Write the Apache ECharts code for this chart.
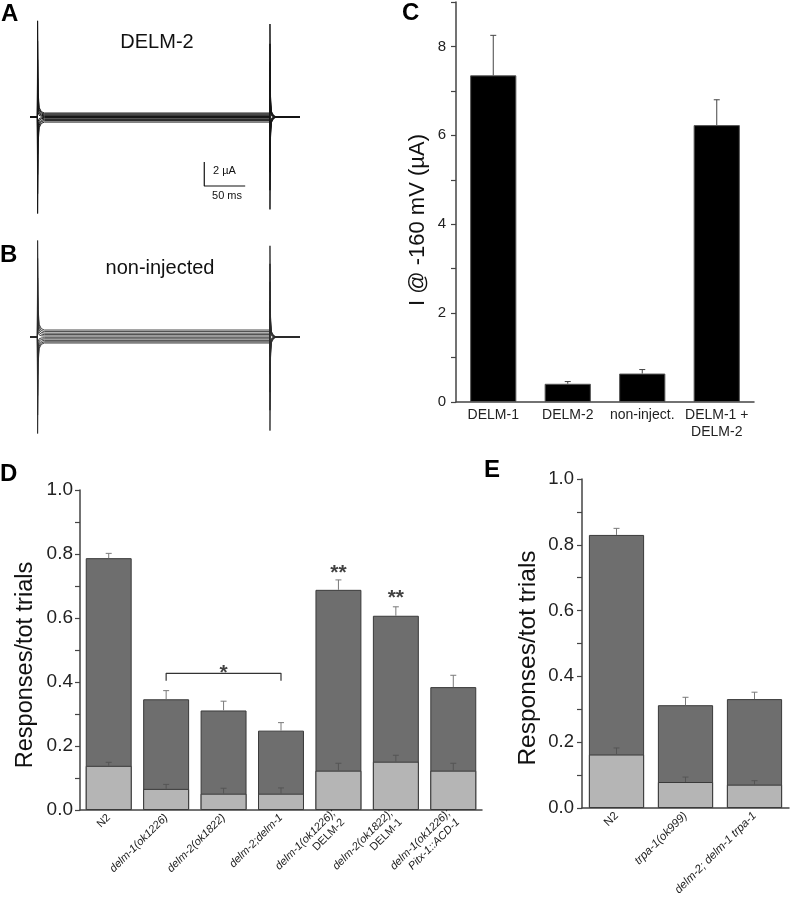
<!DOCTYPE html>
<html>
<head>
<meta charset="utf-8">
<script src="https://cdn.jsdelivr.net/npm/echarts@6/dist/echarts.min.js"></script>
<style>
html,body{margin:0;padding:0;background:#fff;}
#chart{width:791px;height:899px;}
</style>
</head>
<body>
<div id="chart"></div>
<script>
// ---------- Panel A/B: current traces ----------
const tOn = 9, tOff = 293, tEnd = 330;               // ms
const transientT = [0, 0.3, 1, 2.2, 4.8, 8.5];        // ms after edge
const transientF = [0, 1, 0.22, 0.06, 0.015, 0];      // fraction of peak
const peakA  = [7.7, 6.1, 4.6, 3.1, 1.6, -1.5, -3.0, -4.6, -6.1, -7.75];
const levelA = [0.33, 0.25, 0.17, 0.1, 0.04, -0.04, -0.1, -0.2, -0.3, -0.42];
const peakB  = [7.8, 6.1, 4.6, 3.1, 1.6, -1.5, -3.0, -4.6, -6.1, -7.6];
const levelB = [0.58, 0.45, 0.32, 0.2, 0.08, -0.06, -0.16, -0.28, -0.4, -0.5];
const scaleBarTime = [213, 213, 263];
const scaleBarCurrent = [-3.75, -5.75, -5.75];

// ---------- Panel C ----------
const catsC = ['DELM-1', 'DELM-2', 'non-inject.', 'DELM-1 +\nDELM-2'];
const valC  = [7.35, 0.41, 0.64, 6.23];
const errC  = [0.9, 0.05, 0.09, 0.57];

// ---------- Panel D ----------
const catsD = ['N2', 'delm-1(ok1226)', 'delm-2(ok1822)', 'delm-2;delm-1',
  'delm-1(ok1226);\nDELM-2', 'delm-2(ok1822);\nDELM-1', 'delm-1(ok1226);\nPitx-1::ACD-1'];
const totalD    = [0.787, 0.346, 0.311, 0.248, 0.688, 0.607, 0.384];
const totalErrD = [0.015, 0.027, 0.029, 0.025, 0.031, 0.028, 0.037];
const lightD    = [0.138, 0.066, 0.051, 0.051, 0.123, 0.151, 0.123];
const lightErrD = [0.011, 0.014, 0.017, 0.018, 0.023, 0.02, 0.023];
const bracketD  = [[1, 0.404], [1, 0.427], [3, 0.427], [3, 0.404]];
const starsD    = [[2, 0.426, '*'], [4, 0.741, '**'], [5, 0.661, '**']];

// ---------- Panel E ----------
const catsE = ['N2', 'trpa-1(ok999)', 'delm-2; delm-1 trpa-1'];
const totalE    = [0.830, 0.3125, 0.331];
const totalErrE = [0.02, 0.024, 0.021];
const lightE    = [0.1625, 0.079, 0.071];
const lightErrE = [0.02, 0.015, 0.012];

const FONT = '"Liberation Sans", Arial, sans-serif';
const DARK = '#6e6e6e', LIGHT = '#b5b5b5', EDGE = '#3a3a3a', AXIS = '#444';

function tracePoints(peak, level) {
  const pts = [[0, 0], [tOn, 0]];
  for (let i = 1; i < transientT.length; i++) {
    pts.push([tOn + transientT[i], level + peak * transientF[i]]);
  }
  pts.push([tOff, level]);
  for (let i = 1; i < transientT.length; i++) {
    pts.push([tOff + transientT[i], -peak * transientF[i]]);
  }
  pts.push([tEnd, 0]);
  return pts;
}

function traceSeries(peaks, levels, axisIdx, color, width) {
  return peaks.map((p, i) => ({
    type: 'line', xAxisIndex: axisIdx, yAxisIndex: axisIdx,
    data: tracePoints(p, levels[i]), symbol: 'none', silent: true,
    lineStyle: { color: color, width: width, join: 'bevel' }
  }));
}

function errSeries(axisIdx, vals, errs, color, z) {
  return {
    type: 'custom', xAxisIndex: axisIdx, yAxisIndex: axisIdx, z: z || 5, silent: true,
    data: vals.map((v, i) => [i, v, errs[i]]),
    encode: { x: 0, y: 1 },
    renderItem: function (params, api) {
      const x = api.value(0), v = api.value(1), e = api.value(2);
      const p0 = api.coord([x, v]);
      const p1 = api.coord([x, v + e]);
      const st = { stroke: color, lineWidth: 1 };
      return {
        type: 'group', children: [
          { type: 'line', shape: { x1: p0[0], y1: p0[1], x2: p1[0], y2: p1[1] }, style: st },
          { type: 'line', shape: { x1: p1[0] - 3, y1: p1[1], x2: p1[0] + 3, y2: p1[1] }, style: st }
        ]
      };
    }
  };
}

function hiddenAxis(min, max, grid) {
  return { type: 'value', gridIndex: grid, min: min, max: max, show: false };
}

function geneLabel(v) {
  if (v === 'N2') return '{n|N2}';
  return v.split('\n').map(l => /^DELM-\d$/.test(l) ? '{n|' + l + '}' : '{i|' + l + '}').join('\n');
}

function responseYAxis(grid, fs, margin) {
  return {
    type: 'value', gridIndex: grid, min: 0, max: 1, interval: 0.1,
    axisLine: { show: true, lineStyle: { color: AXIS, width: 1.5 } },
    axisTick: { show: true, length: 5, lineStyle: { color: AXIS, width: 1.2 } },
    splitLine: { show: false },
    axisLabel: {
      margin: margin, fontSize: fs, fontFamily: FONT, color: '#222',
      formatter: v => (Math.round(v * 10) % 2 === 0 ? v.toFixed(1) : '')
    }
  };
}

function responseXAxis(grid, cats, fs) {
  return {
    type: 'category', gridIndex: grid, data: cats,
    axisLine: { show: true, lineStyle: { color: AXIS, width: 1.5 } },
    axisTick: { show: false },
    axisLabel: {
      rotate: 45, margin: 6, interval: 0, lineHeight: fs + 2,
      formatter: geneLabel,
      rich: {
        i: { fontStyle: 'italic', fontSize: fs, fontFamily: FONT, color: '#222', lineHeight: fs + 2 },
        n: { fontSize: fs, fontFamily: FONT, color: '#222', lineHeight: fs + 2 }
      }
    }
  };
}

const chart = echarts.init(document.getElementById('chart'), null, { renderer: 'canvas' });

const option = {
  animation: false,
  backgroundColor: '#fff',
  grid: [
    { left: 30, top: 21, width: 270, height: 192 },   // A
    { left: 30, top: 241, width: 270, height: 192 },  // B
    { left: 456, top: 2, width: 298, height: 400 },   // C
    { left: 80, top: 490, width: 402, height: 320 },  // D
    { left: 582, top: 479, width: 207, height: 329 }  // E
  ],
  xAxis: [
    hiddenAxis(0, tEnd, 0),
    hiddenAxis(0, tEnd, 1),
    {
      type: 'category', gridIndex: 2, data: catsC,
      axisLine: { show: true, lineStyle: { color: AXIS, width: 1.5 } },
      axisTick: { show: false },
      axisLabel: { margin: 5, fontSize: 14, fontFamily: FONT, color: '#222', lineHeight: 17, interval: 0 }
    },
    responseXAxis(3, catsD, 11),
    responseXAxis(4, catsE, 11.5)
  ],
  yAxis: [
    hiddenAxis(-8, 8, 0),
    hiddenAxis(-8, 8, 1),
    {
      type: 'value', gridIndex: 2, min: 0, max: 9, interval: 1,
      axisLine: { show: true, lineStyle: { color: AXIS, width: 1.5 } },
      axisTick: { show: true, length: 5, lineStyle: { color: AXIS, width: 1.2 } },
      splitLine: { show: false },
      axisLabel: {
        margin: 10, fontSize: 15, fontFamily: FONT, color: '#222',
        formatter: v => (v % 2 === 0 && v < 9 ? String(v) : '')
      }
    },
    responseYAxis(3, 19, 7),
    responseYAxis(4, 18.5, 8)
  ],
  series: [
    ...traceSeries(peakA, levelA, 0, '#151515', 1.0),
    ...traceSeries(peakB, levelB, 1, '#2a2a2a', 0.9),
    {
      type: 'line', xAxisIndex: 0, yAxisIndex: 0, symbol: 'none', silent: true,
      data: scaleBarTime.map((t, i) => [t, scaleBarCurrent[i]]),
      lineStyle: { color: '#111', width: 1.2 }
    },
    // C
    {
      type: 'bar', xAxisIndex: 2, yAxisIndex: 2, data: valC, barWidth: '62%',
      itemStyle: { color: '#000', borderColor: '#555', borderWidth: 1 }
    },
    errSeries(2, valC, errC, '#444'),
    // D
    {
      type: 'bar', xAxisIndex: 3, yAxisIndex: 3, data: totalD, barWidth: '80%',
      itemStyle: { color: DARK, borderColor: EDGE, borderWidth: 1 }
    },
    {
      type: 'bar', xAxisIndex: 3, yAxisIndex: 3, data: lightD, barWidth: '80%', barGap: '-100%',
      itemStyle: { color: LIGHT, borderColor: EDGE, borderWidth: 1 }
    },
    errSeries(3, totalD, totalErrD, '#7a7a7a'),
    errSeries(3, lightD, lightErrD, '#555'),
    {
      type: 'line', xAxisIndex: 3, yAxisIndex: 3, symbol: 'none', silent: true,
      data: bracketD, lineStyle: { color: '#333', width: 1.2 }
    },
    {
      type: 'scatter', xAxisIndex: 3, yAxisIndex: 3, symbolSize: 1, silent: true, z: 10,
      itemStyle: { color: 'rgba(0,0,0,0)' },
      data: starsD.map(s => ({ value: [s[0], s[1]], label: { formatter: s[2] } })),
      label: { show: true, position: 'inside', fontSize: 21, fontWeight: 'bold', fontFamily: FONT, color: '#111' }
    },
    // E
    {
      type: 'bar', xAxisIndex: 4, yAxisIndex: 4, data: totalE, barWidth: '80%',
      itemStyle: { color: DARK, borderColor: EDGE, borderWidth: 1 }
    },
    {
      type: 'bar', xAxisIndex: 4, yAxisIndex: 4, data: lightE, barWidth: '80%', barGap: '-100%',
      itemStyle: { color: LIGHT, borderColor: EDGE, borderWidth: 1 }
    },
    errSeries(4, totalE, totalErrE, '#7a7a7a'),
    errSeries(4, lightE, lightErrE, '#555')
  ],
  graphic: [
    // panel letters
    { type: 'text', x: 1, y: 14, style: { text: 'A', font: 'bold 24px ' + FONT, fill: '#000', verticalAlign: 'middle' } },
    { type: 'text', x: 0, y: 255, style: { text: 'B', font: 'bold 24px ' + FONT, fill: '#000', verticalAlign: 'middle' } },
    { type: 'text', x: 402, y: 13, style: { text: 'C', font: 'bold 24px ' + FONT, fill: '#000', verticalAlign: 'middle' } },
    { type: 'text', x: 0, y: 474, style: { text: 'D', font: 'bold 24px ' + FONT, fill: '#000', verticalAlign: 'middle' } },
    { type: 'text', x: 484, y: 470, style: { text: 'E', font: 'bold 24px ' + FONT, fill: '#000', verticalAlign: 'middle' } },
    // trace labels
    { type: 'text', x: 157, y: 42, style: { text: 'DELM-2', font: '20px ' + FONT, fill: '#111', align: 'center', verticalAlign: 'middle' } },
    { type: 'text', x: 160, y: 268, style: { text: 'non-injected', font: '20px ' + FONT, fill: '#111', align: 'center', verticalAlign: 'middle' } },
    { type: 'text', x: 213, y: 171, style: { text: '2 µA', font: '11px ' + FONT, fill: '#111', verticalAlign: 'middle' } },
    { type: 'text', x: 227, y: 196, style: { text: '50 ms', font: '11px ' + FONT, fill: '#111', align: 'center', verticalAlign: 'middle' } },
    // axis titles
    { type: 'text', x: 418, y: 220, rotation: Math.PI / 2, style: { text: 'I @ -160 mV (µA)', font: '22px ' + FONT, fill: '#111', align: 'center', verticalAlign: 'middle' } },
    { type: 'text', x: 26, y: 665, rotation: Math.PI / 2, style: { text: 'Responses/tot trials', font: '23.5px ' + FONT, fill: '#111', align: 'center', verticalAlign: 'middle' } },
    { type: 'text', x: 528, y: 658, rotation: Math.PI / 2, style: { text: 'Responses/tot trials', font: '24.5px ' + FONT, fill: '#111', align: 'center', verticalAlign: 'middle' } }
  ]
};

chart.setOption(option);
</script>
</body>
</html>
